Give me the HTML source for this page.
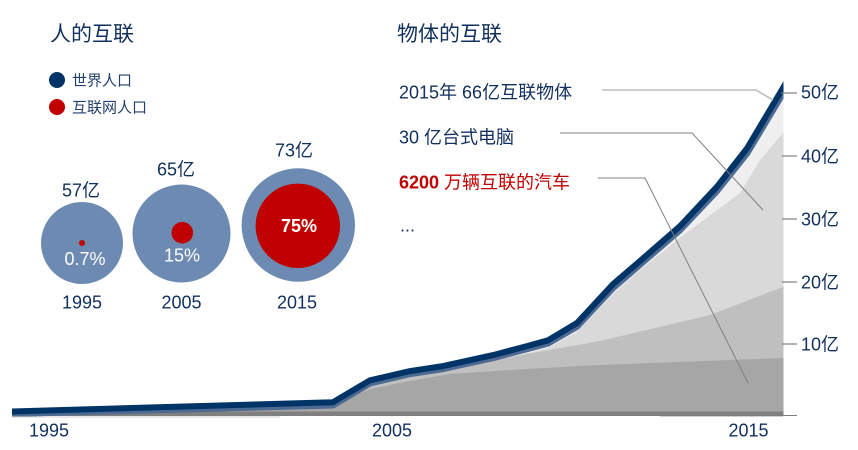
<!DOCTYPE html>
<html><head><meta charset="utf-8"><style>
html,body{margin:0;padding:0;background:#fff;}
svg{display:block;}
text{font-family:"Liberation Sans","Noto Sans CJK SC",sans-serif;}
</style></head><body>
<svg width="858" height="450" viewBox="0 0 858 450" xmlns="http://www.w3.org/2000/svg">
<defs>
<clipPath id="pc"><rect x="12" y="0" width="771.5" height="420"/></clipPath>
</defs>

<!-- Titles -->
<text x="50" y="41" font-size="21" fill="#12305e">人的互联</text>
<text x="397" y="41" font-size="21" fill="#12305e">物体的互联</text>

<!-- Legend -->
<circle cx="57" cy="80" r="8" fill="#003366"/>
<text x="72" y="85.5" font-size="15" fill="#24406c">世界人口</text>
<circle cx="57" cy="107" r="8" fill="#c00000"/>
<text x="72" y="112.5" font-size="15" fill="#24406c">互联网人口</text>

<!-- Bubbles -->
<circle cx="82" cy="243" r="41" fill="#6d8bb2"/>
<circle cx="82" cy="243" r="3" fill="#c00000"/>
<text x="85" y="265" font-size="18" fill="#fff" text-anchor="middle">0.7%</text>
<text x="81" y="196.5" font-size="18" fill="#12305e" text-anchor="middle">57亿</text>
<text x="82" y="308.5" font-size="18" fill="#12305e" text-anchor="middle">1995</text>

<circle cx="181.5" cy="233.5" r="49" fill="#6d8bb2"/>
<circle cx="182.3" cy="232.7" r="10.8" fill="#c00000"/>
<text x="182" y="261.5" font-size="18" fill="#fff" text-anchor="middle">15%</text>
<text x="176" y="175.5" font-size="18" fill="#12305e" text-anchor="middle">65亿</text>
<text x="181.5" y="308.5" font-size="18" fill="#12305e" text-anchor="middle">2005</text>

<circle cx="298.3" cy="225" r="56.7" fill="#6d8bb2"/>
<circle cx="297.8" cy="225.8" r="42.2" fill="#c00000"/>
<text x="299" y="232.2" font-size="18" font-weight="bold" fill="#fff" text-anchor="middle">75%</text>
<text x="294" y="156.5" font-size="18" fill="#12305e" text-anchor="middle">73亿</text>
<text x="297" y="308.5" font-size="18" fill="#12305e" text-anchor="middle">2015</text>

<!-- Area chart -->
<g clip-path="url(#pc)">
<polygon fill="#efefef" points="12,416 12,415 333,405.5 370,383.5 410,374.1 443,369.1 493,358.2 527,349.2 548,343.6 577,326.9 613,288.3 640,264.9 680,230.4 717,191.3 747,153.8 783,93.8 784,93.8 784,416"/>
<polygon fill="#d9d9d9" points="12,416 12,413 333,402 370,387 410,378 443,373 493,362 527,353 548,348 577,332 613,294 640,270 677,240 740,193 760,160 783,133 784,133 784,416"/>
<polygon fill="#bfbfbf" points="12,416 12,413 333,403 370,385 410,377 480,363 527,354 600,341 710,315 783,287 784,287 784,416"/>
<polygon fill="#a6a6a6" points="12,416 12,413.5 333,404.5 370,389 410,381 450,374 527,369 600,365 783,358 784,358 784,416"/>
<rect x="12" y="411.5" width="772" height="4.5" fill="#808080"/>
<polyline fill="none" stroke="#4d6a92" stroke-width="6" stroke-linejoin="round" points="8,414 12,414 333,405.5 370,383.5 410,374.1 443,369.1 493,358.2 527,349.2 548,343.6 577,326.9 613,288.3 640,264.9 680,230.4 717,191.3 747,153.8 783,93.8 790,82"/>
<polyline fill="none" stroke="#003366" stroke-width="6" stroke-linejoin="round" points="8,411.5 12,411.5 333,402.2 370,380.3 410,371.1 443,366.1 493,355.1 527,346.1 548,340.3 577,323 613,284.2 640,261 680,226.2 717,186.7 747,148.4 783,87.9 790,76"/>
</g>
<line x1="12" y1="417" x2="280" y2="417" stroke="#d6d6d6" stroke-width="1"/>
<line x1="660" y1="416.5" x2="783" y2="416.5" stroke="#cfcfcf" stroke-width="1"/>
<line x1="783" y1="415.5" x2="797" y2="415.5" stroke="#808080" stroke-width="1"/>

<!-- Y ticks -->
<g stroke="#808080" stroke-width="1.2">
<line x1="781" y1="93" x2="797" y2="93"/>
<line x1="782" y1="156" x2="797" y2="156"/>
<line x1="782" y1="219" x2="797" y2="219"/>
<line x1="782" y1="282" x2="797" y2="282"/>
<line x1="782" y1="344" x2="797" y2="344"/>
</g>
<g font-size="18" fill="#12305e">
<text x="801" y="98.5">50亿</text>
<text x="801" y="162.5">40亿</text>
<text x="801" y="225.5">30亿</text>
<text x="801" y="288.5">20亿</text>
<text x="801" y="350.5">10亿</text>
</g>

<!-- X labels -->
<g font-size="18" fill="#12305e" text-anchor="middle">
<text x="49" y="436.5">1995</text>
<text x="392" y="436.5">2005</text>
<text x="748.5" y="436.5">2015</text>
</g>

<!-- Annotations -->
<text x="399" y="98.5" font-size="18" fill="#12305e">2015年 66亿互联物体</text>
<text x="399" y="143.5" font-size="18" fill="#12305e">30 亿台式电脑</text>
<text x="399" y="188.5" font-size="18" fill="#c00000" font-weight="bold">6200 <tspan font-weight="normal">万辆互联的汽车</tspan></text>
<text x="400" y="231.5" font-size="18" fill="#12305e">...</text>

<polyline fill="none" stroke="#bdbdbd" stroke-width="1.6" points="602,90 756,90 773,100"/>
<polyline fill="none" stroke="#808080" stroke-width="1" points="560,133 692,133 763,210"/>
<polyline fill="none" stroke="#808080" stroke-width="1" points="598,178 645,178 748,383"/>
</svg>
</body></html>
